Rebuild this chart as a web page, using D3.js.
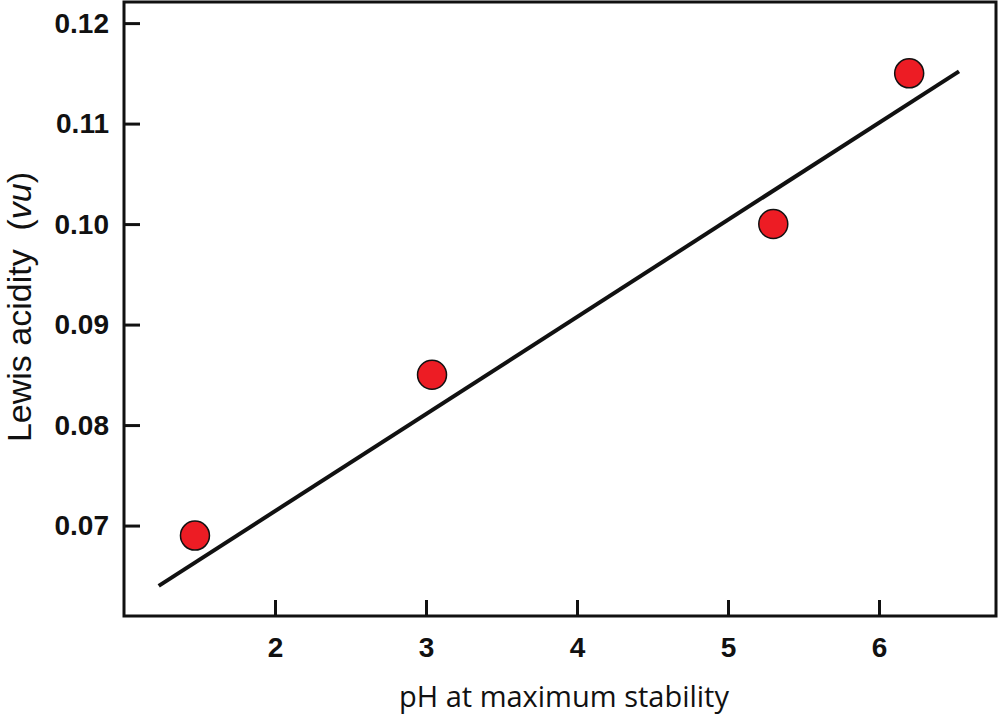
<!DOCTYPE html>
<html>
<head>
<meta charset="utf-8">
<script src="https://cdn.jsdelivr.net/npm/d3@7"></script>
<style>
  body { margin: 0; background: #fff; }
  svg { display: block; }
</style>
</head>
<body>
<div id="chart"></div>
<script>
// data
const phValues = [1.47, 3.04, 5.30, 6.20]
const lewisAcidity = [0.069, 0.085, 0.100, 0.115]
// fitted line endpoints as drawn
const fitPh = [1.23, 6.53]
const fitAcidity = [0.0640, 0.1152]
const xTicks = [2, 3, 4, 5, 6]
const yTicks = [0.07, 0.08, 0.09, 0.10, 0.11, 0.12]

const width = 1001
const height = 720
const margin = { left: 124, right: 5, top: 2, bottom: 104 }

const svg = d3.select('#chart')
  .append('svg')
  .attr('width', width)
  .attr('height', height)

const x = d3.scaleLinear()
  .domain([1.0, 6.775])
  .range([margin.left, width - margin.right])

const y = d3.scaleLinear()
  .domain([0.0610, 0.1221])
  .range([height - margin.bottom, margin.top])

const xAxis = svg.append('g')
  .attr('transform', `translate(0,${height - margin.bottom})`)
  .call(d3.axisBottom(x).tickValues(xTicks).tickFormat(d3.format('d'))
    .tickSizeInner(-16).tickSizeOuter(0).tickPadding(21))

const yAxis = svg.append('g')
  .attr('transform', `translate(${margin.left},0)`)
  .call(d3.axisLeft(y).tickValues(yTicks).tickFormat(d3.format('.2f'))
    .tickSizeInner(-16).tickSizeOuter(0).tickPadding(15))

for (const ax of [xAxis, yAxis]) {
  ax.select('.domain').remove()
  ax.selectAll('line').attr('stroke', '#111').attr('stroke-width', 3)
  ax.selectAll('text')
    .attr('fill', '#111')
    .style('font-family', '"Liberation Sans", Arial, sans-serif')
    .style('font-weight', 'bold')
    .style('font-size', '28px')
}

// frame
svg.append('rect')
  .attr('x', x.range()[0])
  .attr('y', y.range()[1])
  .attr('width', x.range()[1] - x.range()[0])
  .attr('height', y.range()[0] - y.range()[1])
  .attr('fill', 'none')
  .attr('stroke', '#111')
  .attr('stroke-width', 3)

// fit line
svg.append('line')
  .attr('x1', x(fitPh[0]))
  .attr('y1', y(fitAcidity[0]))
  .attr('x2', x(fitPh[1]))
  .attr('y2', y(fitAcidity[1]))
  .attr('stroke', '#111')
  .attr('stroke-width', 4)

// points
svg.selectAll('circle.pt')
  .data(phValues)
  .enter()
  .append('circle')
  .attr('class', 'pt')
  .attr('cx', d => x(d))
  .attr('cy', (d, i) => y(lewisAcidity[i]))
  .attr('r', 14.5)
  .attr('fill', '#ed1c24')
  .attr('stroke', '#111')
  .attr('stroke-width', 1.5)

// axis titles
svg.append('text')
  .attr('x', 564)
  .attr('y', 707)
  .attr('text-anchor', 'middle')
  .attr('fill', '#111')
  .style('font-family', '"Open Sans", "Noto Sans", sans-serif')
  .style('font-size', '29px')
  .text('pH at maximum stability')

const yTitle = svg.append('text')
  .attr('transform', 'translate(31,307) rotate(-90)')
  .attr('text-anchor', 'middle')
  .attr('fill', '#111')
  .style('white-space', 'pre')
  .style('font-family', '"Liberation Sans", Arial, sans-serif')
  .style('font-size', '34px')
yTitle.append('tspan').text('Lewis acidity  (')
yTitle.append('tspan').style('font-style', 'italic').text('vu')
yTitle.append('tspan').text(')')
</script>
</body>
</html>
